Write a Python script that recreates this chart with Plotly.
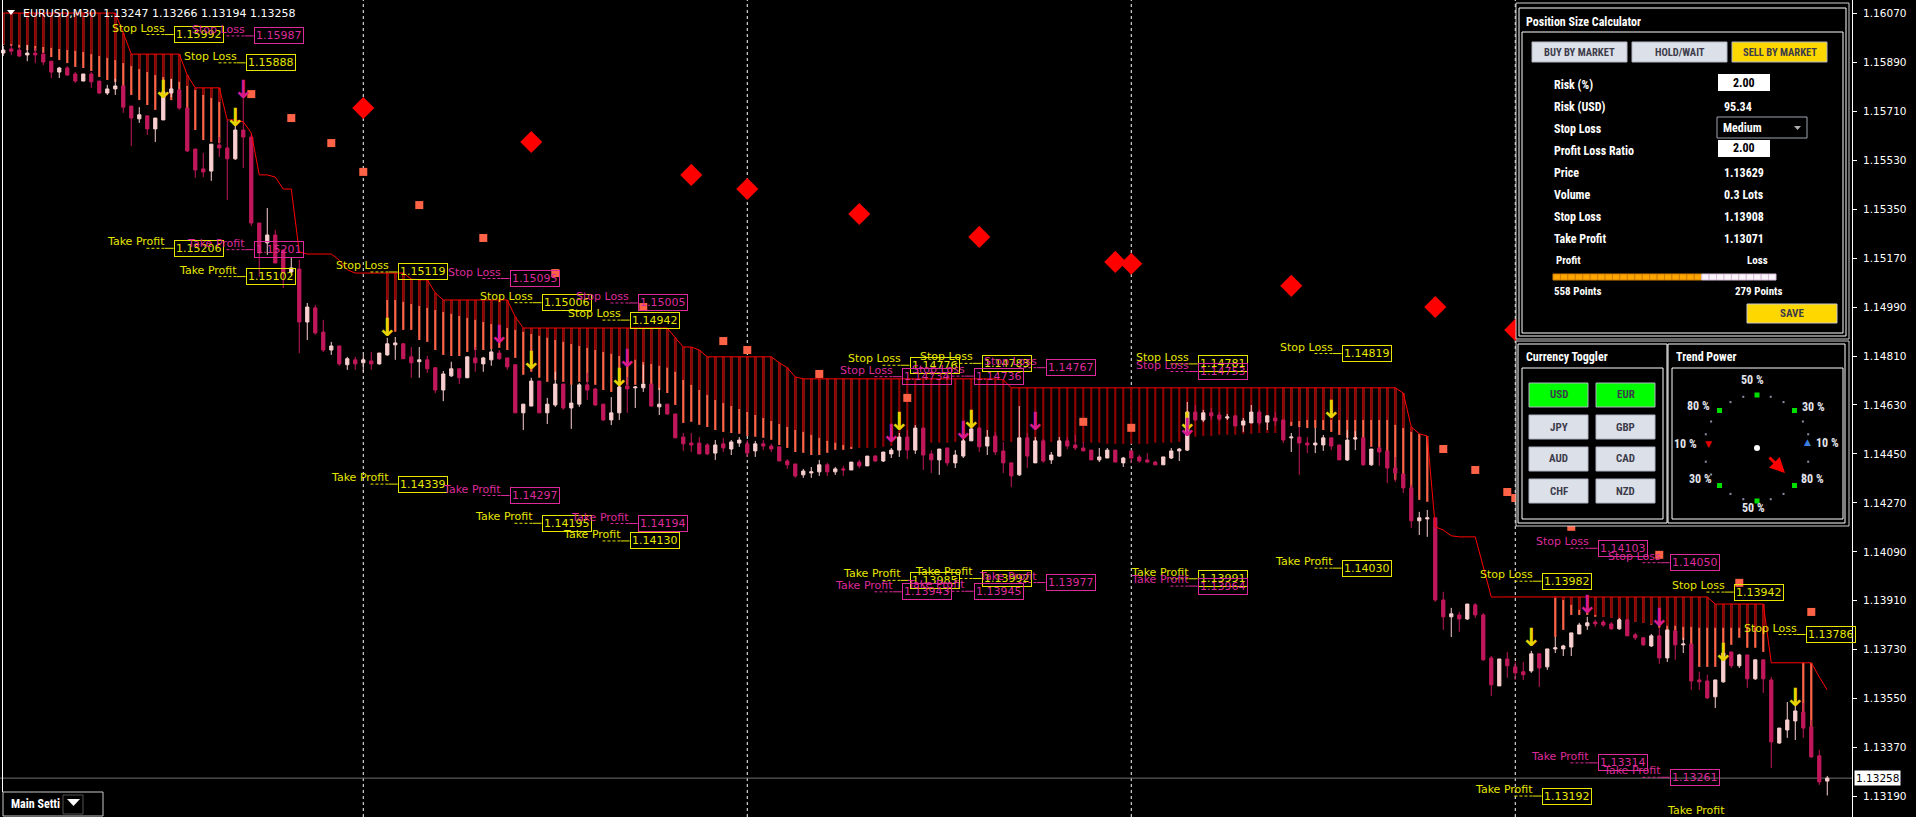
import math
import plotly.graph_objects as go

# ---------------- EURUSD M30 bars (oldest -> newest) ----------------
opens = [
    1.15924, 1.15939, 1.15935, 1.15917, 1.15924, 1.15920, 1.15894, 1.15854, 1.15869, 1.15847,
    1.15821, 1.15847, 1.15821, 1.15777, 1.15792, 1.15803, 1.15729, 1.15682, 1.15693, 1.15645,
    1.15678, 1.15777, 1.15788, 1.15722, 1.15571, 1.15498, 1.15490, 1.15586, 1.15575, 1.15535,
    1.15641, 1.15615, 1.15299, 1.15226, 1.15255, 1.15200, 1.15119, 1.15130, 1.14935, 1.14987,
    1.14898, 1.14832, 1.14847, 1.14778, 1.14796, 1.14785, 1.14792, 1.14781, 1.14814, 1.14851,
    1.14855, 1.14807, 1.14789, 1.14796, 1.14767, 1.14685, 1.14737, 1.14763, 1.14730, 1.14803,
    1.14781, 1.14796, 1.14821, 1.14803, 1.14778, 1.14601, 1.14626, 1.14718, 1.14601, 1.14630,
    1.14707, 1.14619, 1.14633, 1.14704, 1.14689, 1.14633, 1.14575, 1.14601, 1.14700, 1.14693,
    1.14693, 1.14707, 1.14623, 1.14633, 1.14597, 1.14512, 1.14490, 1.14490, 1.14483, 1.14453,
    1.14487, 1.14468, 1.14490, 1.14487, 1.14461, 1.14487, 1.14479, 1.14476, 1.14424, 1.14413,
    1.14373, 1.14380, 1.14384, 1.14410, 1.14384, 1.14395, 1.14391, 1.14420, 1.14406, 1.14442,
    1.14424, 1.14450, 1.14464, 1.14512, 1.14464, 1.14545, 1.14450, 1.14428, 1.14472, 1.14417,
    1.14442, 1.14498, 1.14545, 1.14479, 1.14516, 1.14461, 1.14417, 1.14373, 1.14509, 1.14417,
    1.14498, 1.14428, 1.14442, 1.14498, 1.14483, 1.14472, 1.14464, 1.14428, 1.14435, 1.14464,
    1.14417, 1.14461, 1.14439, 1.14428, 1.14420, 1.14410, 1.14435, 1.14461, 1.14464, 1.14604,
    1.14575, 1.14601, 1.14593, 1.14582, 1.14590, 1.14556, 1.14564, 1.14604, 1.14567, 1.14582,
    1.14575, 1.14509, 1.14512, 1.14490, 1.14483, 1.14483, 1.14509, 1.14483, 1.14428, 1.14505,
    1.14509, 1.14410, 1.14472, 1.14461, 1.14398, 1.14376, 1.14325, 1.14204, 1.14211, 1.14215,
    1.13913, 1.13851, 1.13858, 1.13843, 1.13895, 1.13858, 1.13700, 1.13597, 1.13696, 1.13667,
    1.13649, 1.13652, 1.13715, 1.13667, 1.13733, 1.13733, 1.13740, 1.13788, 1.13818, 1.13832,
    1.13832, 1.13825, 1.13807, 1.13840, 1.13785, 1.13774, 1.13744, 1.13781, 1.13700, 1.13799,
    1.13748, 1.13751, 1.13619, 1.13615, 1.13557, 1.13612, 1.13722, 1.13671, 1.13711, 1.13623,
    1.13693, 1.13619, 1.13387, 1.13435, 1.13468, 1.13501, 1.13446, 1.13340, 1.13247,
]
highs = [
    1.15950, 1.15953, 1.15946, 1.15953, 1.15942, 1.15928, 1.15894, 1.15873, 1.15876, 1.15854,
    1.15847, 1.15854, 1.15821, 1.15807, 1.15829, 1.15803, 1.15729, 1.15725, 1.15693, 1.15685,
    1.15788, 1.15829, 1.15792, 1.15722, 1.15571, 1.15557, 1.15589, 1.15615, 1.15678, 1.15678,
    1.15777, 1.15623, 1.15299, 1.15354, 1.15274, 1.15200, 1.15174, 1.15163, 1.15005, 1.14998,
    1.14943, 1.14862, 1.14847, 1.14807, 1.14807, 1.14814, 1.14825, 1.14821, 1.14877, 1.14880,
    1.14858, 1.14843, 1.14843, 1.14811, 1.14767, 1.14755, 1.14789, 1.14763, 1.14807, 1.14843,
    1.14807, 1.14836, 1.14832, 1.14803, 1.14778, 1.14633, 1.14730, 1.14718, 1.14656, 1.14752,
    1.14707, 1.14704, 1.14711, 1.14748, 1.14693, 1.14633, 1.14659, 1.14711, 1.14733, 1.14700,
    1.14778, 1.14707, 1.14693, 1.14633, 1.14597, 1.14527, 1.14527, 1.14512, 1.14490, 1.14501,
    1.14509, 1.14501, 1.14512, 1.14501, 1.14498, 1.14501, 1.14487, 1.14476, 1.14431, 1.14413,
    1.14395, 1.14402, 1.14428, 1.14417, 1.14402, 1.14406, 1.14420, 1.14428, 1.14442, 1.14446,
    1.14457, 1.14472, 1.14527, 1.14538, 1.14556, 1.14545, 1.14464, 1.14468, 1.14472, 1.14464,
    1.14505, 1.14545, 1.14549, 1.14538, 1.14531, 1.14494, 1.14420, 1.14626, 1.14527, 1.14512,
    1.14505, 1.14457, 1.14512, 1.14512, 1.14520, 1.14494, 1.14464, 1.14472, 1.14472, 1.14464,
    1.14439, 1.14464, 1.14446, 1.14453, 1.14424, 1.14439, 1.14472, 1.14472, 1.14641, 1.14630,
    1.14612, 1.14619, 1.14604, 1.14597, 1.14590, 1.14582, 1.14630, 1.14612, 1.14593, 1.14604,
    1.14575, 1.14527, 1.14549, 1.14512, 1.14545, 1.14520, 1.14509, 1.14483, 1.14538, 1.14534,
    1.14509, 1.14468, 1.14476, 1.14461, 1.14439, 1.14376, 1.14336, 1.14237, 1.14244, 1.14215,
    1.13943, 1.13884, 1.13869, 1.13898, 1.13902, 1.13865, 1.13707, 1.13696, 1.13722, 1.13685,
    1.13685, 1.13726, 1.13715, 1.13733, 1.13777, 1.13748, 1.13792, 1.13829, 1.13851, 1.13840,
    1.13840, 1.13832, 1.13847, 1.13840, 1.13792, 1.13777, 1.13788, 1.13810, 1.13803, 1.13803,
    1.13774, 1.13751, 1.13649, 1.13638, 1.13619, 1.13729, 1.13722, 1.13715, 1.13711, 1.13693,
    1.13693, 1.13630, 1.13442, 1.13538, 1.13535, 1.13535, 1.13472, 1.13362, 1.13266,
]
lows = [
    1.15913, 1.15917, 1.15909, 1.15894, 1.15887, 1.15880, 1.15832, 1.15832, 1.15840, 1.15814,
    1.15821, 1.15796, 1.15773, 1.15770, 1.15770, 1.15704, 1.15582, 1.15667, 1.15623, 1.15597,
    1.15678, 1.15762, 1.15715, 1.15560, 1.15465, 1.15468, 1.15454, 1.15542, 1.15384, 1.15531,
    1.15501, 1.15288, 1.15101, 1.15182, 1.15152, 1.15060, 1.15108, 1.14821, 1.14869, 1.14888,
    1.14825, 1.14814, 1.14774, 1.14759, 1.14759, 1.14752, 1.14759, 1.14778, 1.14811, 1.14796,
    1.14800, 1.14730, 1.14730, 1.14748, 1.14674, 1.14644, 1.14733, 1.14707, 1.14730, 1.14752,
    1.14752, 1.14774, 1.14796, 1.14759, 1.14601, 1.14538, 1.14626, 1.14601, 1.14560, 1.14623,
    1.14612, 1.14542, 1.14623, 1.14648, 1.14626, 1.14571, 1.14556, 1.14575, 1.14601, 1.14619,
    1.14678, 1.14623, 1.14593, 1.14593, 1.14509, 1.14461, 1.14457, 1.14450, 1.14446, 1.14428,
    1.14457, 1.14446, 1.14476, 1.14439, 1.14439, 1.14464, 1.14457, 1.14424, 1.14395, 1.14362,
    1.14362, 1.14362, 1.14369, 1.14369, 1.14373, 1.14369, 1.14391, 1.14398, 1.14406, 1.14420,
    1.14420, 1.14435, 1.14439, 1.14431, 1.14450, 1.14391, 1.14380, 1.14373, 1.14406, 1.14398,
    1.14435, 1.14498, 1.14457, 1.14446, 1.14446, 1.14380, 1.14328, 1.14369, 1.14398, 1.14417,
    1.14417, 1.14413, 1.14439, 1.14468, 1.14464, 1.14461, 1.14428, 1.14420, 1.14435, 1.14420,
    1.14402, 1.14417, 1.14417, 1.14417, 1.14410, 1.14410, 1.14431, 1.14424, 1.14461, 1.14571,
    1.14567, 1.14575, 1.14571, 1.14575, 1.14553, 1.14531, 1.14564, 1.14556, 1.14538, 1.14553,
    1.14490, 1.14457, 1.14373, 1.14453, 1.14453, 1.14461, 1.14464, 1.14428, 1.14424, 1.14464,
    1.14406, 1.14406, 1.14406, 1.14343, 1.14347, 1.14306, 1.14178, 1.14152, 1.14145, 1.13906,
    1.13803, 1.13777, 1.13796, 1.13840, 1.13847, 1.13689, 1.13560, 1.13597, 1.13627, 1.13619,
    1.13619, 1.13645, 1.13593, 1.13656, 1.13718, 1.13707, 1.13707, 1.13788, 1.13803, 1.13814,
    1.13814, 1.13803, 1.13803, 1.13781, 1.13766, 1.13744, 1.13740, 1.13678, 1.13685, 1.13693,
    1.13718, 1.13582, 1.13582, 1.13549, 1.13516, 1.13608, 1.13663, 1.13663, 1.13590, 1.13619,
    1.13571, 1.13295, 1.13384, 1.13406, 1.13398, 1.13406, 1.13332, 1.13233, 1.13194,
]
closes = [
    1.15935, 1.15931, 1.15913, 1.15924, 1.15917, 1.15891, 1.15854, 1.15869, 1.15843, 1.15821,
    1.15847, 1.15818, 1.15777, 1.15792, 1.15803, 1.15725, 1.15685, 1.15697, 1.15645, 1.15685,
    1.15781, 1.15792, 1.15722, 1.15564, 1.15494, 1.15487, 1.15589, 1.15575, 1.15535, 1.15641,
    1.15615, 1.15299, 1.15189, 1.15255, 1.15152, 1.15115, 1.15134, 1.14935, 1.14990, 1.14895,
    1.14832, 1.14847, 1.14781, 1.14800, 1.14781, 1.14796, 1.14781, 1.14821, 1.14855, 1.14858,
    1.14800, 1.14785, 1.14796, 1.14763, 1.14685, 1.14744, 1.14763, 1.14730, 1.14807, 1.14785,
    1.14803, 1.14825, 1.14800, 1.14770, 1.14601, 1.14633, 1.14718, 1.14601, 1.14633, 1.14707,
    1.14619, 1.14637, 1.14704, 1.14685, 1.14630, 1.14575, 1.14601, 1.14696, 1.14689, 1.14696,
    1.14707, 1.14626, 1.14633, 1.14597, 1.14509, 1.14487, 1.14483, 1.14450, 1.14450, 1.14483,
    1.14472, 1.14494, 1.14501, 1.14453, 1.14487, 1.14479, 1.14468, 1.14424, 1.14410, 1.14369,
    1.14387, 1.14384, 1.14410, 1.14384, 1.14395, 1.14391, 1.14420, 1.14406, 1.14442, 1.14424,
    1.14457, 1.14464, 1.14512, 1.14464, 1.14545, 1.14446, 1.14428, 1.14468, 1.14417, 1.14446,
    1.14498, 1.14542, 1.14476, 1.14512, 1.14457, 1.14417, 1.14369, 1.14509, 1.14442, 1.14498,
    1.14424, 1.14446, 1.14498, 1.14479, 1.14472, 1.14461, 1.14428, 1.14439, 1.14464, 1.14420,
    1.14435, 1.14435, 1.14424, 1.14420, 1.14410, 1.14439, 1.14461, 1.14468, 1.14604, 1.14575,
    1.14601, 1.14590, 1.14578, 1.14586, 1.14553, 1.14571, 1.14604, 1.14564, 1.14590, 1.14571,
    1.14501, 1.14512, 1.14490, 1.14483, 1.14490, 1.14509, 1.14479, 1.14428, 1.14501, 1.14509,
    1.14410, 1.14468, 1.14457, 1.14398, 1.14380, 1.14325, 1.14204, 1.14215, 1.14215, 1.13913,
    1.13851, 1.13862, 1.13843, 1.13898, 1.13858, 1.13693, 1.13601, 1.13696, 1.13671, 1.13645,
    1.13638, 1.13715, 1.13663, 1.13733, 1.13737, 1.13744, 1.13792, 1.13821, 1.13829, 1.13825,
    1.13821, 1.13807, 1.13840, 1.13781, 1.13774, 1.13748, 1.13781, 1.13700, 1.13803, 1.13748,
    1.13751, 1.13615, 1.13612, 1.13553, 1.13619, 1.13718, 1.13671, 1.13711, 1.13623, 1.13693,
    1.13623, 1.13391, 1.13442, 1.13472, 1.13505, 1.13442, 1.13336, 1.13244, 1.13258,
]
N_BARS = len(closes)
assert len(opens) == len(highs) == len(lows) == N_BARS == 229

# trailing stop (step line)
trail_stop = ([1.16071] * 15 + [1.15998] + [1.15920] * 7 + [1.15843] + [1.15796] * 4
              + [1.15678] * 2 + [1.15671, 1.15630] + [1.15476] * 2 + [1.15468] + [1.15424] * 2
              + [1.15193] + [1.15185] * 4 + [1.15163, 1.15127] + [1.15115] * 7 + [1.15093]
              + [1.15090] * 2 + [1.15042] + [1.15016] * 9 + [1.14954] + [1.14913] * 19
              + [1.14877] + [1.14843] * 2 + [1.14832] + [1.14807] * 9 + [1.14785, 1.14767, 1.14733]
              + [1.14726] * 25 + [1.14722] + [1.14693] * 49
              + [1.14674, 1.14549, 1.14524, 1.14516, 1.14182, 1.14170, 1.14149] + [1.14145] * 3
              + [1.14035] + [1.13924] * 28 + [1.13898] * 7 + [1.13682] * 6 + [1.13630, 1.13582])
assert len(trail_stop) == N_BARS

# hatch ends below the trailing stop (dark red part / salmon part), by segment
hatch_a_start = 0
hatch_a_dark = [1.15957, 1.15957, 1.15954, 1.15954, 1.15950, 1.15946, 1.15943, 1.15939, 1.15935, 1.15932,
                1.15928, 1.15920, 1.15913, 1.15906, 1.15898, 1.15887, 1.15876, 1.15865, 1.15854, 1.15843,
                1.15836, 1.15829, 1.15818, 1.15803, 1.15788, 1.15770, 1.15759, 1.15744]
hatch_a_salmon = [1.15954, 1.15950, 1.15943, 1.15935, 1.15932, 1.15924, 1.15909, 1.15898, 1.15887, 1.15873,
                  1.15869, 1.15858, 1.15836, 1.15825, 1.15818, 1.15796, 1.15770, 1.15751, 1.15733, 1.15715,
                  1.15733, 1.15751, 1.15744, 1.15696, 1.15641, 1.15604, 1.15597, 1.15593]
hatch_b_start = 48
hatch_b_dark = ([1.15016, 1.15016, 1.15009, 1.15001, 1.14994, 1.14987, 1.14979, 1.14972, 1.14965, 1.14957,
                 1.14950, 1.14943, 1.14935, 1.14928, 1.14921, 1.14913, 1.14906, 1.14899, 1.14891, 1.14884,
                 1.14877, 1.14869, 1.14862, 1.14854, 1.14847, 1.14840, 1.14832, 1.14825, 1.14818, 1.14810,
                 1.14803, 1.14796, 1.14788, 1.14781, 1.14774, 1.14767, 1.14752, 1.14722, 1.14704, 1.14685,
                 1.14667, 1.14648, 1.14637, 1.14626, 1.14615, 1.14604, 1.14593, 1.14582, 1.14571, 1.14560,
                 1.14549, 1.14538, 1.14531, 1.14520, 1.14509, 1.14498, 1.14491, 1.14483, 1.14476]
                + [1.14472, 1.14472, 1.14472, 1.14476, 1.14479, 1.14483, 1.14487, 1.14491, 1.14491, 1.14491,
                   1.14491, 1.14491, 1.14494, 1.14498, 1.14502, 1.14502, 1.14502, 1.14498]
                + [1.14498, 1.14494, 1.14491, 1.14491, 1.14491, 1.14491, 1.14494, 1.14494, 1.14494, 1.14494,
                   1.14491, 1.14491, 1.14491, 1.14487, 1.14487, 1.14487, 1.14487, 1.14487, 1.14487, 1.14491,
                   1.14491]
                + [1.14491, 1.14494, 1.14502]
                + [1.14513, 1.14516, 1.14516, 1.14520, 1.14520, 1.14520, 1.14524, 1.14524, 1.14527, 1.14527,
                   1.14527]
                + [1.14557, 1.14568, 1.14571] + [1.14575] * 11
                + [1.14557, 1.14545, 1.14531, 1.14524, 1.14516])
hatch_b_salmon = ([1.14899, 1.14899, 1.14906, 1.14906, 1.14869, 1.14862, 1.14832, 1.14814, 1.14810, 1.14810,
                   1.14825, 1.14832, 1.14832, 1.14836, 1.14840, 1.14832, 1.14803, 1.14741, 1.14752, 1.14730,
                   1.14715, 1.14722, 1.14715, 1.14704, 1.14715, 1.14715, 1.14704, 1.14685, 1.14678, 1.14693,
                   1.14704, 1.14704, 1.14711, 1.14696, 1.14685, 1.14674, 1.14630, 1.14564, 1.14568, 1.14557,
                   1.14549, 1.14538, 1.14531, 1.14527, 1.14524, 1.14516, 1.14513, 1.14509, 1.14502, 1.14483,
                   1.14472, 1.14457, 1.14454, 1.14446, 1.14446, 1.14454, 1.14465, 1.14465, 1.14468]
                  + [None] * 53
                  + [1.14557, 1.14553, 1.14549, 1.14545, 1.14545, 1.14538, 1.14531, 1.14520, 1.14509, 1.14502,
                     1.14491, 1.14476, 1.14465, 1.14446, 1.14355, 1.14325, 1.14299, 1.14281, 1.14274])
hatch_c_start = 194
hatch_c_dark = [1.13921, 1.13913, 1.13895, 1.13877, 1.13869, 1.13858, 1.13851, 1.13847, 1.13840, 1.13840,
                1.13833, 1.13829, 1.13825, 1.13822, 1.13818, 1.13818, 1.13814, 1.13814] + [1.13811] * 9
hatch_c_salmon = [1.13777, 1.13803, 1.13858, 1.13858, 1.13858, 1.13851, 1.13851, 1.13847, 1.13840, 1.13840,
                  1.13833, 1.13829, 1.13822, 1.13811, 1.13803, 1.13792, 1.13766, 1.13741, 1.13667, 1.13667,
                  1.13667, 1.13730, 1.13748, 1.13774, 1.13737, 1.13737, 1.13722]
hatch_d_start = 225
hatch_d_dark = [1.13682, 1.13682]
hatch_d_salmon = [1.13483, 1.13425]

# parabolic dots, signal diamonds, arrows
square_bars = [31, 36, 41, 45, 52, 60, 69, 80, 90, 93, 102, 113, 135, 141, 180, 184, 188, 189, 196, 207, 217, 226]
square_prices = [1.15773, 1.15685, 1.15593, 1.15487, 1.15365, 1.15244, 1.15115, 1.14990, 1.14865, 1.14832,
                 1.14744, 1.14656, 1.14568, 1.14546, 1.14468, 1.14391, 1.14310, 1.14288, 1.14182, 1.14079,
                 1.13976, 1.13869]
diamond_bars = [45, 66, 86, 93, 107, 122, 139, 141, 161, 179, 189]
diamond_prices = [1.15722, 1.15597, 1.15476, 1.15424, 1.15332, 1.15248, 1.15156, 1.15149, 1.15068, 1.14990, 1.14906]
yellow_arrow_bars = [20, 29, 48, 66, 77, 112, 121, 148, 166, 191, 215, 224]
yellow_arrow_prices = [1.15781, 1.15678, 1.14906, 1.14785, 1.14722, 1.14560, 1.14568, 1.14560, 1.14604,
                       1.13766, 1.13711, 1.13545]
magenta_arrow_bars = [30, 62, 78, 111, 120, 129, 148, 198, 207]
magenta_arrow_prices = [1.15781, 1.14880, 1.14792, 1.14516, 1.14527, 1.14560, 1.14538, 1.13887, 1.13840]

# stop loss / take profit labels
label_bar = [21, 31, 30, 21, 31, 30, 49, 63, 67, 79, 78, 49, 63, 67, 79, 78,
             113, 112, 122, 121, 130, 149, 149, 113, 112, 122, 121, 130, 149, 149,
             167, 167, 199, 208, 192, 216, 225, 199, 208, 192]
label_kind = ["SL", "SL", "SL", "TP", "TP", "TP", "SL", "SL", "SL", "SL", "SL", "TP", "TP", "TP", "TP", "TP",
              "SL", "SL", "SL", "SL", "SL", "SL", "SL", "TP", "TP", "TP", "TP", "TP", "TP", "TP",
              "SL", "TP", "SL", "SL", "SL", "SL", "SL", "TP", "TP", "TP"]
label_side = ["Y", "M", "Y", "Y", "M", "Y", "Y", "M", "Y", "M", "Y", "Y", "M", "Y", "M", "Y",
              "Y", "M", "Y", "M", "M", "Y", "M", "Y", "M", "Y", "M", "M", "Y", "M",
              "Y", "Y", "M", "M", "Y", "Y", "Y", "M", "M", "Y"]
label_price = [1.15992, 1.15987, 1.15888, 1.15206, 1.15201, 1.15102, 1.15119, 1.15095, 1.15006, 1.15005,
               1.14942, 1.14339, 1.14297, 1.14195, 1.14194, 1.14130, 1.14776, 1.14734, 1.14783, 1.14736,
               1.14767, 1.14781, 1.14753, 1.13985, 1.13943, 1.13992, 1.13945, 1.13977, 1.13991, 1.13964,
               1.14819, 1.14030, 1.14103, 1.14050, 1.13982, 1.13942, 1.13786, 1.13314, 1.13261, 1.13192]
tail_bar = [216]
tail_price = [1.13116]

day_separators = [45, 93, 141, 189]
price_ticks = [1.16070, 1.15890, 1.15710, 1.15530, 1.15350, 1.15170, 1.14990, 1.14810, 1.14630,
               1.14450, 1.14270, 1.14090, 1.13910, 1.13730, 1.13550, 1.13370, 1.13190]
last_price = 1.13258
header = "EURUSD,M30  1.13247 1.13266 1.13194 1.13258"

# ---------------- styling ----------------
BULL = "#F9CFCF"
BEAR = "#C2185B"
YEL = "#E6E600"
MAG = "#DD2A9B"
LBL_FONT = "DejaVu Sans"
PANEL_FONT = "Liberation Sans Narrow, Arial Narrow, Roboto Condensed, Roboto, sans-serif"
W_PLOT, H = 1852, 817


def px(x):
    return x / W_PLOT


def py(y):
    return 1 - y / H


shapes = []
annotations = []


def rect(x0, y0, x1, y1, line=None, fill=None, width=1):
    shapes.append(dict(type="rect", xref="paper", yref="paper", x0=px(x0), x1=px(x1), y0=py(y1), y1=py(y0),
                       line=dict(color=line or "rgba(0,0,0,0)", width=width if line else 0),
                       fillcolor=fill or "rgba(0,0,0,0)", layer="above"))


def text(x, y, s, size=12, color="white", anchor="left", bold=True, family=PANEL_FONT):
    annotations.append(dict(xref="paper", yref="paper", x=px(x), y=py(y), text=f"<b>{s}</b>" if bold else s,
                            showarrow=False, xanchor=anchor, yanchor="middle",
                            font=dict(family=family, size=size, color=color)))


def tri(x0, x1, y0, y1, color):
    shapes.append(dict(type="path", xref="paper", yref="paper",
                       path=f"M {px(x0)},{py(y0)} L {px(x1)},{py(y0)} L {px((x0 + x1) / 2)},{py(y1)} Z",
                       fillcolor=color, line=dict(width=0), layer="above"))


fig = go.Figure()

hatch_dark = [None] * N_BARS
hatch_salmon = [None] * N_BARS
for st, dk, sa in [(hatch_a_start, hatch_a_dark, hatch_a_salmon), (hatch_b_start, hatch_b_dark, hatch_b_salmon),
                   (hatch_c_start, hatch_c_dark, hatch_c_salmon), (hatch_d_start, hatch_d_dark, hatch_d_salmon)]:
    for k in range(len(dk)):
        hatch_dark[st + k] = dk[k]
        hatch_salmon[st + k] = sa[k]


def hatch_trace(ends, color):
    xs, base, h = [], [], []
    for i, (e, s) in enumerate(zip(ends, trail_stop)):
        if e is not None and e < s:
            xs.append(i)
            base.append(s)
            h.append(e - s)
    return go.Bar(x=xs, y=h, base=base, width=0.28, marker=dict(color=color, line=dict(width=0)),
                  hoverinfo="skip", showlegend=False)


fig.add_trace(hatch_trace(hatch_salmon, "#FF6347"))
fig.add_trace(hatch_trace(hatch_dark, "#8B0000"))

bars = list(range(N_BARS))
fig.add_trace(go.Candlestick(
    x=bars, open=opens, high=highs, low=lows, close=closes,
    increasing=dict(line=dict(color=BULL, width=1), fillcolor=BULL),
    decreasing=dict(line=dict(color=BEAR, width=1), fillcolor=BEAR),
    whiskerwidth=0, hoverinfo="skip", showlegend=False))

fig.add_trace(go.Scatter(x=bars, y=trail_stop, mode="lines", line=dict(color="#FF0000", width=1),
                         hoverinfo="skip", showlegend=False))
fig.add_trace(go.Scatter(x=square_bars, y=square_prices, mode="markers",
                         marker=dict(symbol="square", size=8, color="#FF6347"), hoverinfo="skip", showlegend=False))
fig.add_trace(go.Scatter(x=diamond_bars, y=diamond_prices, mode="markers",
                         marker=dict(symbol="diamond", size=17, color="#FF0000"), hoverinfo="skip", showlegend=False))
fig.add_trace(go.Scatter(x=yellow_arrow_bars, y=yellow_arrow_prices, mode="text", text=["↓"] * len(yellow_arrow_bars),
                         textfont=dict(family="DejaVu Sans", size=25, color="#E8D200", weight="bold"),
                         hoverinfo="skip", showlegend=False))
fig.add_trace(go.Scatter(x=magenta_arrow_bars, y=magenta_arrow_prices, mode="text",
                         text=["↓"] * len(magenta_arrow_bars),
                         textfont=dict(family="DejaVu Sans", size=25, color="#D81B8C", weight="bold"),
                         hoverinfo="skip", showlegend=False))

# day separators and last price line
for b in day_separators:
    shapes.append(dict(type="line", xref="x", yref="paper", x0=b, x1=b, y0=0, y1=1,
                       line=dict(color="white", width=1, dash="3px,3px"), layer="below"))
shapes.append(dict(type="line", xref="paper", yref="y", x0=0, x1=1, y0=last_price, y1=last_price,
                   line=dict(color="#707070", width=1), layer="below"))
shapes.append(dict(type="line", xref="paper", yref="paper", x0=px(2.5), x1=px(2.5), y0=py(792), y1=1,
                   line=dict(color="white", width=1), layer="above"))

# SL / TP labels
for b, kind, side, p in zip(label_bar, label_kind, label_side, label_price):
    c = YEL if side == "Y" else MAG
    annotations.append(dict(x=b, y=p, xref="x", yref="y", text=f"{p:.5f}", showarrow=False,
                            xanchor="left", yanchor="middle", xshift=2.4,
                            font=dict(family=LBL_FONT, size=11, color=c), bordercolor=c, borderwidth=1,
                            borderpad=1))
    annotations.append(dict(x=b, y=p, xref="x", yref="y", text="Stop Loss" if kind == "SL" else "Take Profit",
                            showarrow=False, xanchor="right", yanchor="bottom", xshift=-5.6, yshift=-1,
                            font=dict(family=LBL_FONT, size=11, color=c), borderpad=0))
    shapes.append(dict(type="line", xref="x", yref="y", x0=b - 3.1, x1=b - 0.8, y0=p, y1=p,
                       line=dict(color=c, width=1, dash="3px,2px"), layer="above"))
    shapes.append(dict(type="line", xref="x", yref="y", x0=b - 0.8, x1=b + 0.3, y0=p, y1=p,
                       line=dict(color=c, width=1), layer="above"))
for b, p in zip(tail_bar, tail_price):
    annotations.append(dict(x=b, y=p, xref="x", yref="y", text="Take Profit", showarrow=False,
                            xanchor="right", yanchor="bottom", xshift=-5.6, yshift=-1,
                            font=dict(family=LBL_FONT, size=11, color=YEL), borderpad=0))

# header and current price tag
text(21, 13, header, size=11, bold=False, family=LBL_FONT)
tri(7, 15, 10, 15, "white")
annotations.append(dict(xref="paper", yref="y", x=px(1854), y=last_price, text=f"{last_price:.5f}",
                        showarrow=False, xanchor="left", yanchor="middle", bgcolor="white", borderpad=1,
                        font=dict(family=LBL_FONT, size=10.5, color="black")))

# ---------------- Position Size Calculator panel ----------------
BTN = "#DCE0E8"
BTN_TXT = "#3C3C4C"
rect(1516, 3, 1849, 339, line="#D0D0D0", fill="black")
rect(1519, 8, 1846, 336, line="white")
rect(1522, 32, 1843, 333, line="white")
text(1524, 22, "Position Size Calculator", size=12)
for (x0, x1), lbl, fill in zip([(1532, 1627), (1632, 1727), (1732, 1827)],
                               ["BUY BY MARKET", "HOLD/WAIT", "SELL BY MARKET"], [BTN, BTN, "#FFD700"]):
    rect(x0, 42, x1, 62, line="#B0B4C0", fill=fill)
    text((x0 + x1) / 2, 52, lbl, size=10.5, color=BTN_TXT, anchor="center")
row_labels = ["Risk (%)", "Risk (USD)", "Stop Loss", "Profit Loss Ratio", "Price", "Volume", "Stop Loss",
              "Take Profit"]
row_values = [None, "95.34", None, None, "1.13629", "0.3 Lots", "1.13908", "1.13071"]
row_y = [85, 107, 129, 151, 173, 195, 217, 239]
for lbl, val, y in zip(row_labels, row_values, row_y):
    text(1552, y, lbl, size=12)
    if val:
        text(1722, y, val, size=12)
rect(1718, 74, 1770, 91, fill="white")
text(1744, 83, "2.00", size=12, color="black", anchor="center")
rect(1718, 140, 1770, 157, fill="white")
text(1744, 148, "2.00", size=12, color="black", anchor="center")
rect(1717, 117, 1807, 138, line="#A0A4B4", fill="black")
text(1721, 128, "Medium", size=12)
tri(1794, 1801, 126, 130, "#B0B0B0")
text(1554, 260, "Profit", size=11)
text(1770, 260, "Loss", size=11, anchor="right")
profit_points, loss_points = 558, 279
n_cells = 30
n_profit = round(n_cells * profit_points / (profit_points + loss_points))
cell_w = (1776 - 1553) / n_cells
for k in range(n_cells):
    x0 = 1553 + k * cell_w
    if k < n_profit:
        rect(x0, 274, x0 + cell_w, 280, line="#D08000", fill="#FFA500")
    else:
        rect(x0, 274, x0 + cell_w, 280, line="#D8C0D8", fill="#FBF4FB")
text(1552, 292, f"{profit_points} Points", size=11)
text(1733, 292, f"{loss_points} Points", size=11)
rect(1747, 304, 1837, 323, line="#C8C8C8", fill="#FFD700")
text(1792, 314, "SAVE", size=11, color=BTN_TXT, anchor="center")

# ---------------- Currency Toggler ----------------
rect(1516, 341, 1849, 526, line="#D0D0D0", fill="black")
rect(1518, 344, 1667, 523, line="white")
rect(1522, 368, 1663, 519, line="white")
text(1524, 357, "Currency Toggler", size=12)
currencies = [["USD", "EUR"], ["JPY", "GBP"], ["AUD", "CAD"], ["CHF", "NZD"]]
active = {"USD", "EUR"}
for r, (y0, y1) in enumerate([(383, 407), (415, 439), (447, 471), (479, 503)]):
    for c, (x0, x1) in enumerate([(1529, 1588), (1596, 1655)]):
        cur = currencies[r][c]
        rect(x0, y0, x1, y1, line="#B0B4C0", fill="#00FF00" if cur in active else BTN)
        text((x0 + x1) / 2, (y0 + y1) / 2, cur, size=11, color=BTN_TXT, anchor="center")

# ---------------- Trend Power ----------------
rect(1668, 344, 1845, 523, line="white")
rect(1672, 368, 1843, 519, line="white")
text(1674, 357, "Trend Power", size=12)
cx, cy, rad = 1757, 448, 53
for k in range(24):
    ang = 15 * k
    x = cx + rad * math.cos(math.radians(ang))
    y = cy - rad * math.sin(math.radians(ang))
    if ang in (45, 90, 135, 225, 270, 315):
        rect(x - 2.5, y - 2.5, x + 2.5, y + 2.5, fill="#00E000")
    elif ang not in (0, 180):
        rect(x - 1, y - 1, x + 1, y + 1, fill="#8C90A8")
shapes.append(dict(type="circle", xref="paper", yref="paper", x0=px(cx - 3), x1=px(cx + 3), y0=py(cy + 3),
                   y1=py(cy - 3), fillcolor="white", line=dict(width=0), layer="above"))
dial_labels = [("50 %", 1752, 380), ("30 %", 1813, 407), ("10 %", 1827, 443), ("80 %", 1812, 479),
               ("50 %", 1753, 508), ("30 %", 1700, 479), ("10 %", 1685, 444), ("80 %", 1698, 406)]
for s, x, y in dial_labels:
    text(x, y, s, size=12, color="#E4E4EC", anchor="center")
annotations.append(dict(xref="paper", yref="paper", x=px(1785), y=py(473), ax=-17, ay=-17, text="",
                        showarrow=True, arrowhead=2, arrowsize=1, arrowwidth=3, arrowcolor="#FF0000"))
text(1807, 442, "▲", size=9, color="#3A7FE0", anchor="center", bold=False, family="DejaVu Sans")
text(1708, 444, "▼", size=9, color="#E00000", anchor="center", bold=False, family="DejaVu Sans")

# ---------------- Main settings button ----------------
rect(3, 792, 103, 816, line="#C8C8C8", fill="black")
text(9, 804, "Main Setti", size=12)
rect(63, 795, 83, 814, line="#505050")
tri(67, 80, 799, 806, "white")

fig.update_layout(
    width=1916, height=817, margin=dict(l=0, r=64, t=0, b=0),
    paper_bgcolor="black", plot_bgcolor="black", barmode="overlay", boxgap=0.42, showlegend=False,
    font=dict(family="DejaVu Sans", color="white"),
    xaxis=dict(range=[-0.41, 231.09], visible=False, rangeslider=dict(visible=False), fixedrange=True),
    yaxis=dict(range=[1.13115, 1.16119], side="right", tickvals=price_ticks,
               ticktext=[f"{v:.5f}" for v in price_ticks], ticks="outside", ticklen=4, tickcolor="white",
               showline=True, linecolor="white", linewidth=1, showgrid=False, zeroline=False,
               tickfont=dict(family="DejaVu Sans", size=10.5, color="white"), ticklabelstandoff=4,
               automargin=False, fixedrange=True),
    shapes=shapes, annotations=annotations,
)

fig.write_html("out.html", config={"displayModeBar": False},
               post_script="document.body.style.margin='0';document.body.style.background='#000';")
